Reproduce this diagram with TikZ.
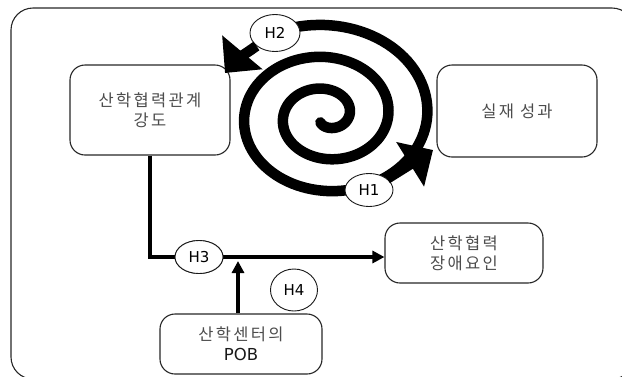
\documentclass[tikz,border=0pt]{standalone}
\usepackage{fontspec}
\setmainfont{DejaVu Sans}
\newfontfamily\kor[LetterSpace=14]{Noto Sans CJK KR}
\usetikzlibrary{shapes.geometric,arrows.meta}
\tikzstyle{box}=[draw=black!85, rounded corners=15pt, line width=1.1pt, align=center, text=black!70, font=\kor\fontsize{16.5}{20}\selectfont]
\tikzstyle{hyp}=[ellipse, draw=black!90, fill=white, line width=0.9pt, minimum width=48pt, minimum height=33pt, inner sep=0pt, font=\fontsize{15}{16}\selectfont]
\tikzstyle{coil}=[line width=10.5pt, line cap=round]
\tikzstyle{coilarrow}=[line width=10.5pt, -{Triangle[length=27pt,width=51pt]}]
\tikzstyle{flow}=[line width=3.5pt, -{Triangle[length=12pt,width=12pt]}]

\begin{document}
\begin{tikzpicture}[x=1pt, y=-1pt]
\useasboundingbox (0,0) rectangle (622,376);
\clip (0,0) rectangle (622,376);
% Frame
    \draw[black!85, line width=1.1pt, rounded corners=22pt] (11,8) rectangle (634,379);
% Boxes
  \node[box, minimum width=160pt, minimum height=90pt] (tie) at (150,110) {산학협력관계\\강도};
  \node[box, minimum width=160pt, minimum height=92pt] (perf) at (517,111) {실재 성과};
  \node[box, minimum width=158pt, minimum height=60pt] (barrier) at (464,253) {산학협력\\장애요인};
  \node[box, minimum width=162pt, minimum height=60pt] (pob) at (241,344) {산학센터의\\{\rmfamily\color{black!90}POB}};
% Spiral
    \draw[coil] plot[domain=-2.2:14.6, samples=300, variable=\t]
      ({326+1.22*(19+5.09*\t)*cos(\t r)}, {116-(19+5.09*\t)*sin(\t r)});
% Hypotheses
  \node[hyp] (H1) at (369,190) {H1};
  \node[hyp, minimum width=50pt, minimum height=37pt] (H2) at (275,33) {H2};
  \node[hyp] (H3) at (199,257) {H3};
  \node[hyp, minimum width=47pt, minimum height=42pt] (H4) at (294,290) {H4};
  \coordinate (h1tip) at (433,150);
  \coordinate (h2tip) at (225,73);
  \coordinate (meet) at (238,261);
% Arrows
    \draw[coilarrow] (H1) -- (h1tip);
    \draw[coilarrow] (H2) to[out=215, in=50] (h2tip);
    \draw[flow] (tie.south) |- ([yshift=-4pt]barrier.west);
    \draw[flow] (pob.north -| meet) -- (meet);
  \node[hyp] at (H3) {H3};
\end{tikzpicture}
\end{document}
